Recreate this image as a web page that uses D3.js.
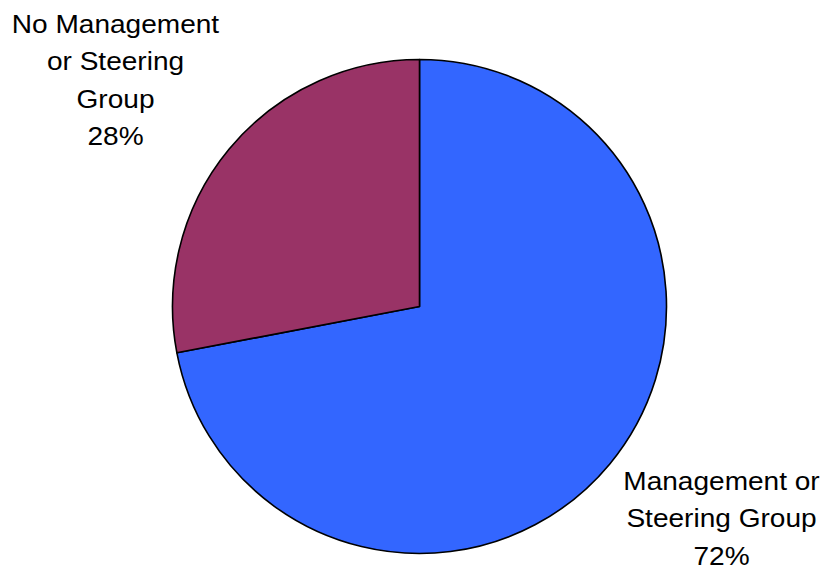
<!DOCTYPE html>
<html>
<head>
<meta charset="utf-8">
<script src="https://cdn.jsdelivr.net/npm/d3@7"></script>
<style>
  html, body { margin: 0; padding: 0; background: #fff; }
  svg { display: block; }
  text { font-family: "Liberation Sans", Arial, sans-serif; fill: #000; }
</style>
</head>
<body>
<svg id="chart" width="828" height="570"></svg>
<script>
// Share of respondents by governance structure
const categories = ["Management or Steering Group", "No Management or Steering Group"];
const values = [72, 28];
const colors = ["#3366FF", "#993366"];
const labelLines = [
  ["Management or", "Steering Group", "72%"],
  ["No Management", "or Steering", "Group", "28%"]
];

const svg = d3.select("#chart");
const cx = 419.5, cy = 306.5, r = 247;

const pie = d3.pie().sort(null).value(d => d.value);
const arc = d3.arc().innerRadius(0).outerRadius(r);
const data = categories.map((c, i) => ({ name: c, value: values[i], color: colors[i], lines: labelLines[i] }));

const g = svg.append("g").attr("transform", `translate(${cx},${cy})`);
g.selectAll("path.slice")
  .data(pie(data))
  .join("path")
  .attr("class", "slice")
  .attr("d", arc)
  .attr("fill", d => d.data.color)
  .attr("stroke", "#000")
  .attr("stroke-width", 1.6)
  .attr("stroke-linejoin", "round");

// Labels placed outside the pie, centred on each block of lines
const labelPos = [
  { x: 721.5, y: 490 },
  { x: 115.5, y: 33 }
];
const lineH = 37.5;
const widen = 1.1;
data.forEach((d, i) => {
  const t = svg.append("text")
    .attr("text-anchor", "middle")
    .attr("font-size", 25.5)
    .attr("transform", `translate(${labelPos[i].x},${labelPos[i].y}) scale(${widen},1)`);
  d.lines.forEach((ln, j) => {
    t.append("tspan")
      .attr("x", 0)
      .attr("dy", j === 0 ? 0 : lineH)
      .text(ln);
  });
});
</script>
</body>
</html>
